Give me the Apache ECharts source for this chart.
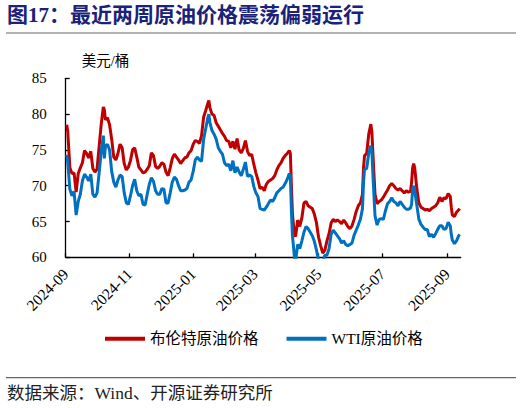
<!DOCTYPE html>
<html><head><meta charset="utf-8">
<script src="https://cdn.jsdelivr.net/npm/echarts@6/dist/echarts.min.js"></script>
<style>html,body{margin:0;padding:0;background:#fff}#c{width:522px;height:408px}</style>
</head><body><div id="c"></div>
<script>
const dates = [
'2024-09-02','2024-09-03','2024-09-05','2024-09-07','2024-09-09','2024-09-11','2024-09-13','2024-09-15','2024-09-17','2024-09-19','2024-09-21','2024-09-23','2024-09-25','2024-09-27','2024-09-29',
'2024-10-01','2024-10-03','2024-10-05','2024-10-07','2024-10-08','2024-10-09','2024-10-11','2024-10-13','2024-10-15','2024-10-17','2024-10-19','2024-10-21','2024-10-23','2024-10-25','2024-10-27','2024-10-29','2024-10-31',
'2024-11-02','2024-11-04','2024-11-06','2024-11-08','2024-11-10','2024-11-12','2024-11-14','2024-11-16','2024-11-18','2024-11-20','2024-11-22','2024-11-24','2024-11-26','2024-11-28','2024-11-30',
'2024-12-02','2024-12-04','2024-12-06','2024-12-08','2024-12-10','2024-12-12','2024-12-14','2024-12-16','2024-12-18','2024-12-20','2024-12-22','2024-12-24','2024-12-26','2024-12-28','2024-12-30',
'2025-01-01','2025-01-03','2025-01-05','2025-01-07','2025-01-09','2025-01-11','2025-01-13','2025-01-15','2025-01-16','2025-01-17','2025-01-19','2025-01-21','2025-01-23','2025-01-25','2025-01-27','2025-01-29','2025-01-31',
'2025-02-02','2025-02-04','2025-02-06','2025-02-08','2025-02-10','2025-02-12','2025-02-14','2025-02-16','2025-02-18','2025-02-20','2025-02-22','2025-02-24','2025-02-26','2025-02-28',
'2025-03-02','2025-03-04','2025-03-06','2025-03-08','2025-03-10','2025-03-12','2025-03-14','2025-03-16','2025-03-18','2025-03-20','2025-03-22','2025-03-24','2025-03-26','2025-03-28','2025-03-30',
'2025-04-01','2025-04-03','2025-04-04','2025-04-05','2025-04-06','2025-04-07','2025-04-08','2025-04-09','2025-04-11','2025-04-13','2025-04-15','2025-04-17','2025-04-19','2025-04-21','2025-04-23','2025-04-25','2025-04-27','2025-04-29',
'2025-05-01','2025-05-03','2025-05-05','2025-05-07','2025-05-09','2025-05-11','2025-05-13','2025-05-15','2025-05-17','2025-05-19','2025-05-21','2025-05-23','2025-05-25','2025-05-27','2025-05-29','2025-05-31',
'2025-06-02','2025-06-04','2025-06-06','2025-06-08','2025-06-10','2025-06-12','2025-06-13','2025-06-14','2025-06-16','2025-06-18','2025-06-20','2025-06-21','2025-06-22','2025-06-24','2025-06-26','2025-06-28','2025-06-30',
'2025-07-02','2025-07-04','2025-07-06','2025-07-08','2025-07-10','2025-07-12','2025-07-14','2025-07-16','2025-07-18','2025-07-20','2025-07-22','2025-07-24','2025-07-26','2025-07-28','2025-07-29','2025-07-30','2025-07-31',
'2025-08-01','2025-08-03','2025-08-05','2025-08-07','2025-08-09','2025-08-11','2025-08-13','2025-08-15','2025-08-17','2025-08-19','2025-08-21','2025-08-23','2025-08-25','2025-08-27','2025-08-29','2025-08-31',
'2025-09-02','2025-09-04','2025-09-05','2025-09-06','2025-09-08','2025-09-10','2025-09-12','2025-09-13'
];
const brent = [
78.5,77.5,72.5,71.7,71.8,69.1,71.7,72.5,73.2,74.9,74.5,73.9,74.8,72.4,71.9,
72.3,75.5,78.6,81.0,80.6,79.2,79.5,78.5,76.5,74.0,73.6,74.5,75.8,75.3,73.1,72.2,72.6,
73.5,75.0,75.3,74.0,72.6,72.2,71.8,71.9,72.3,72.8,74.6,74.2,72.7,72.4,72.7,
73.2,73.0,71.9,71.4,72.5,73.8,74.4,74.0,73.6,73.1,73.5,73.9,74.0,74.6,74.9,
75.8,76.3,76.2,75.9,77.0,79.6,80.5,81.5,81.9,80.9,80.0,79.8,78.8,78.3,77.8,77.3,76.9,
76.3,76.2,75.3,76.2,75.1,76.6,75.0,74.6,75.2,76.3,74.8,74.2,74.4,73.0,
71.8,70.8,69.6,69.8,69.3,70.2,70.6,70.8,71.0,71.4,72.2,72.8,73.2,73.8,74.2,
74.5,74.9,74.5,70.0,66.0,64.5,63.2,62.9,65.2,64.3,65.5,67.6,67.8,67.2,67.0,66.8,66.0,64.8,
62.8,61.6,60.6,61.0,62.3,63.3,64.8,65.3,65.0,65.2,65.0,64.7,65.2,64.8,64.3,64.0,
64.4,65.3,66.4,67.2,67.6,68.8,72.5,74.2,74.5,77.2,78.6,77.5,74.5,68.8,67.5,67.8,68.0,
68.4,68.9,69.4,70.0,70.3,70.0,69.6,69.4,69.6,69.3,69.0,69.3,69.1,69.2,70.5,72.5,73.1,
72.5,69.6,67.6,67.0,66.8,66.6,66.7,66.5,66.8,67.0,67.2,67.6,68.4,67.8,68.3,68.2,
68.9,68.5,67.0,65.9,65.7,66.3,66.6,66.8
];
const wti = [
74.3,73.2,69.5,68.6,69.2,65.9,67.8,68.8,70.7,71.6,71.2,70.7,71.6,68.8,68.4,
69.0,71.8,74.8,77.0,73.8,75.5,75.8,75.0,72.0,70.5,69.8,70.8,71.5,71.3,69.0,67.6,67.4,
68.6,70.0,70.9,69.3,68.6,68.8,67.4,67.3,68.8,70.2,71.1,70.6,69.3,68.8,68.8,
69.6,69.5,67.6,67.6,69.0,70.5,71.2,70.9,70.0,69.3,69.3,69.4,69.6,70.5,70.8,
72.0,73.6,74.0,73.6,73.4,76.5,78.0,79.5,80.0,78.8,77.7,77.2,76.5,75.3,74.8,74.4,73.2,
72.8,73.0,72.1,73.5,71.8,72.6,71.9,71.4,72.3,73.3,71.3,71.5,71.3,69.9,
69.0,68.5,66.8,66.7,66.6,67.0,67.5,68.0,67.8,68.3,69.0,69.3,69.6,69.8,70.3,
70.9,71.7,71.3,66.5,63.0,61.5,59.8,59.5,61.8,61.2,62.3,63.5,64.3,64.0,63.5,63.0,62.2,61.0,
59.5,59.2,59.3,60.3,60.3,61.2,63.2,63.8,63.4,63.0,62.6,62.0,62.3,61.8,61.6,61.8,
62.0,63.1,63.8,64.5,65.3,66.8,70.5,72.3,72.4,74.5,75.6,74.8,71.5,65.8,64.5,65.3,65.4,
65.3,66.5,67.5,67.8,68.3,67.8,67.6,67.2,67.8,67.4,67.0,66.7,66.7,66.9,67.4,69.5,70.0,
69.3,67.3,65.3,64.6,64.2,63.9,63.9,62.9,63.2,62.8,63.3,63.9,64.4,64.4,63.9,64.0,
64.9,64.4,63.2,62.4,61.9,62.3,63.0,63.2
];
const seriesNames = ['布伦特原油价格', 'WTI原油价格'];
const tickLabels = ['2024-09','2024-11','2025-01','2025-03','2025-05','2025-07','2025-09'];
const axisStart = '2024-09-01';
const axisEnd = '2025-09-14';
const yMin = 60, yMax = 85, yStep = 5;

function dayOf(s) {
  const p = s.split('-').map(Number);
  return Math.round((Date.UTC(p[0], p[1] - 1, p[2] || 1) - Date.UTC(2024, 8, 1)) / 86400000);
}
const x0 = dayOf(axisStart);
const tickDays = tickLabels.map(t => dayOf(t) - x0);
const serif = "'Times New Roman','Liberation Serif','Noto Sans CJK SC',serif";

const chart = echarts.init(document.getElementById('c'), null, {renderer: 'svg'});
chart.setOption({
  animation: false,
  backgroundColor: '#fff',
  grid: {left: 65.7, right: 61.3, top: 78.3, bottom: 150.7},
  xAxis: {
    type: 'value', min: 0, max: dayOf(axisEnd) - x0,
    splitLine: {show: false},
    axisLine: {lineStyle: {color: '#000', width: 1.3}},
    axisTick: {inside: true, length: 4, customValues: tickDays, lineStyle: {color: '#000', width: 1.3}},
    axisLabel: {
      customValues: tickDays, rotate: 45, margin: 14,
      color: '#000', fontSize: 15.5, fontFamily: serif,
      formatter: v => { const i = tickDays.indexOf(Math.round(v)); return i >= 0 ? tickLabels[i] : ''; }
    }
  },
  yAxis: {
    type: 'value', min: yMin, max: yMax, interval: yStep,
    name: '美元/桶', nameLocation: 'end', nameGap: 10,
    nameTextStyle: {color: '#000', fontSize: 14.5, fontFamily: serif, align: 'left', padding: [0, 0, 0, 16]},
    splitLine: {show: false},
    axisLine: {show: true, lineStyle: {color: '#000', width: 1.3}},
    axisTick: {show: true, inside: true, length: 4, lineStyle: {color: '#000', width: 1.3}},
    axisLabel: {color: '#000', fontSize: 15, fontFamily: serif, margin: 19}
  },
  legend: {
    left: 105, top: 331, itemWidth: 40, itemHeight: 4, itemGap: 28, padding: 0,
    icon: 'rect',
    textStyle: {color: '#000', fontSize: 15.5, fontFamily: serif, padding: [0, 0, 0, 0]},
    data: seriesNames
  },
  series: [
    {name: seriesNames[0], type: 'line', showSymbol: false, symbol: 'none', color: '#C00000',
     lineStyle: {width: 3, color: '#C00000'}, data: dates.map((d, i) => [dayOf(d) - x0, brent[i]])},
    {name: seriesNames[1], type: 'line', showSymbol: false, symbol: 'none', color: '#0070C0',
     lineStyle: {width: 3, color: '#0070C0'}, data: dates.map((d, i) => [dayOf(d) - x0, wti[i]])}
  ],
  graphic: [
    {type: 'text', left: 7, top: 4, style: {text: '图17：最近两周原油价格震荡偏弱运行', fill: '#1a2279', font: "bold 21px 'Times New Roman','Liberation Serif','Noto Sans CJK SC',serif"}},
    {type: 'line', shape: {x1: 6, y1: 33, x2: 516, y2: 33}, style: {stroke: '#666', lineWidth: 1.2}},
    {type: 'line', shape: {x1: 6, y1: 377.7, x2: 516, y2: 377.7}, style: {stroke: '#666', lineWidth: 1.2}},
    {type: 'text', left: 7, top: 384, style: {text: '数据来源：Wind、开源证券研究所', fill: '#222', font: "17.5px 'Times New Roman','Liberation Serif','Noto Sans CJK SC',serif"}}
  ]
});
</script>
</body></html>
